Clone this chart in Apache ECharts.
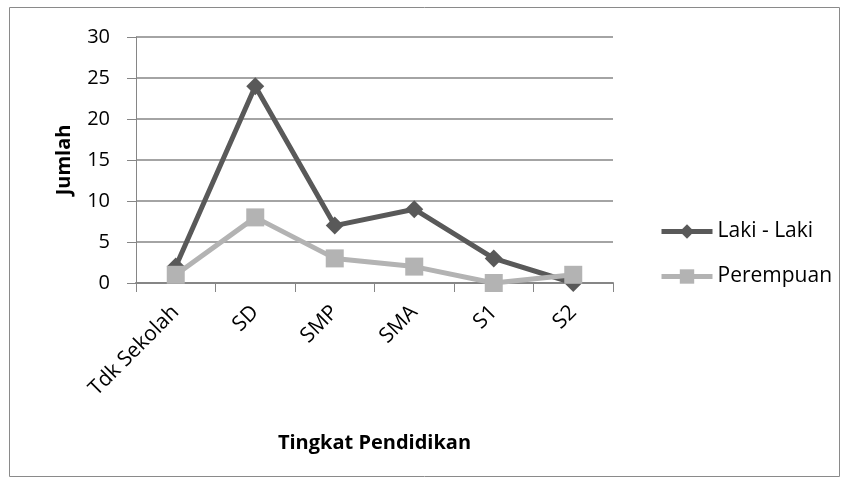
<!DOCTYPE html>
<html>
<head>
<meta charset="utf-8">
<script src="https://cdn.jsdelivr.net/npm/echarts@6/dist/echarts.min.js"></script>
<style>
  html, body { margin: 0; padding: 0; background: #fff; }
  #chart { width: 848px; height: 484px; }
</style>
</head>
<body>
<div id="chart"></div>
<script>
// data
const categories = ['Tdk Sekolah', 'SD', 'SMP', 'SMA', 'S1', 'S2']
const lakiLaki = [2, 24, 7, 9, 3, 0]
const perempuan = [1, 8, 3, 2, 0, 1]

const font = 'Open Sans'
const axisGray = '#868686'
const darkGray = '#595959'
const lightGray = '#b3b3b3'

const chart = echarts.init(document.getElementById('chart'))
chart.setOption({
  animation: false,
  textStyle: { fontFamily: font },
  graphic: [
    {
      type: 'rect',
      shape: { x: 9.5, y: 7.5, width: 830, height: 469 },
      style: { fill: 'none', stroke: '#8a8a8a', lineWidth: 1 }
    }
  ],
  grid: { left: 136, right: 235, top: 37, bottom: 201 },
  legend: {
    orient: 'vertical',
    left: 654,
    top: 216,
    itemGap: 24,
    itemWidth: 51,
    itemHeight: 18,
    textStyle: { fontFamily: font, fontSize: 21, color: '#000' },
    data: [
      { name: 'Laki - Laki', lineStyle: { width: 5 } },
      { name: 'Perempuan', lineStyle: { width: 5 } }
    ]
  },
  xAxis: {
    type: 'category',
    data: categories,
    boundaryGap: true,
    name: 'Tingkat Pendidikan',
    nameLocation: 'middle',
    nameGap: 150,
    nameTextStyle: { fontFamily: font, fontSize: 20, fontWeight: 'bold', color: '#000' },
    axisLine: { lineStyle: { color: axisGray, width: 2 } },
    axisTick: { show: true, length: 9, lineStyle: { color: axisGray, width: 1 } },
    axisLabel: { rotate: 45, fontFamily: font, fontSize: 21, color: '#000', margin: 26, interval: 0 }
  },
  yAxis: {
    type: 'value',
    min: 0,
    max: 30,
    interval: 5,
    name: 'Jumlah',
    nameLocation: 'middle',
    nameGap: 62,
    nameTextStyle: { fontFamily: font, fontSize: 20, fontWeight: 'bold', color: '#000' },
    axisLine: { show: true, lineStyle: { color: axisGray, width: 1 } },
    axisTick: { show: true, length: 9, lineStyle: { color: axisGray } },
    axisLabel: { fontFamily: font, fontSize: 20, color: '#000', margin: 26 },
    splitLine: { lineStyle: { color: axisGray, width: 1.5 } }
  },
  series: [
    {
      name: 'Laki - Laki',
      type: 'line',
      data: lakiLaki,
      symbol: 'diamond',
      symbolSize: 18,
      lineStyle: { width: 5, color: darkGray },
      itemStyle: { color: darkGray },
      z: 2
    },
    {
      name: 'Perempuan',
      type: 'line',
      data: perempuan,
      symbol: 'rect',
      symbolSize: 18,
      lineStyle: { width: 5, color: lightGray },
      itemStyle: { color: lightGray },
      z: 3
    }
  ]
})
</script>
</body>
</html>
